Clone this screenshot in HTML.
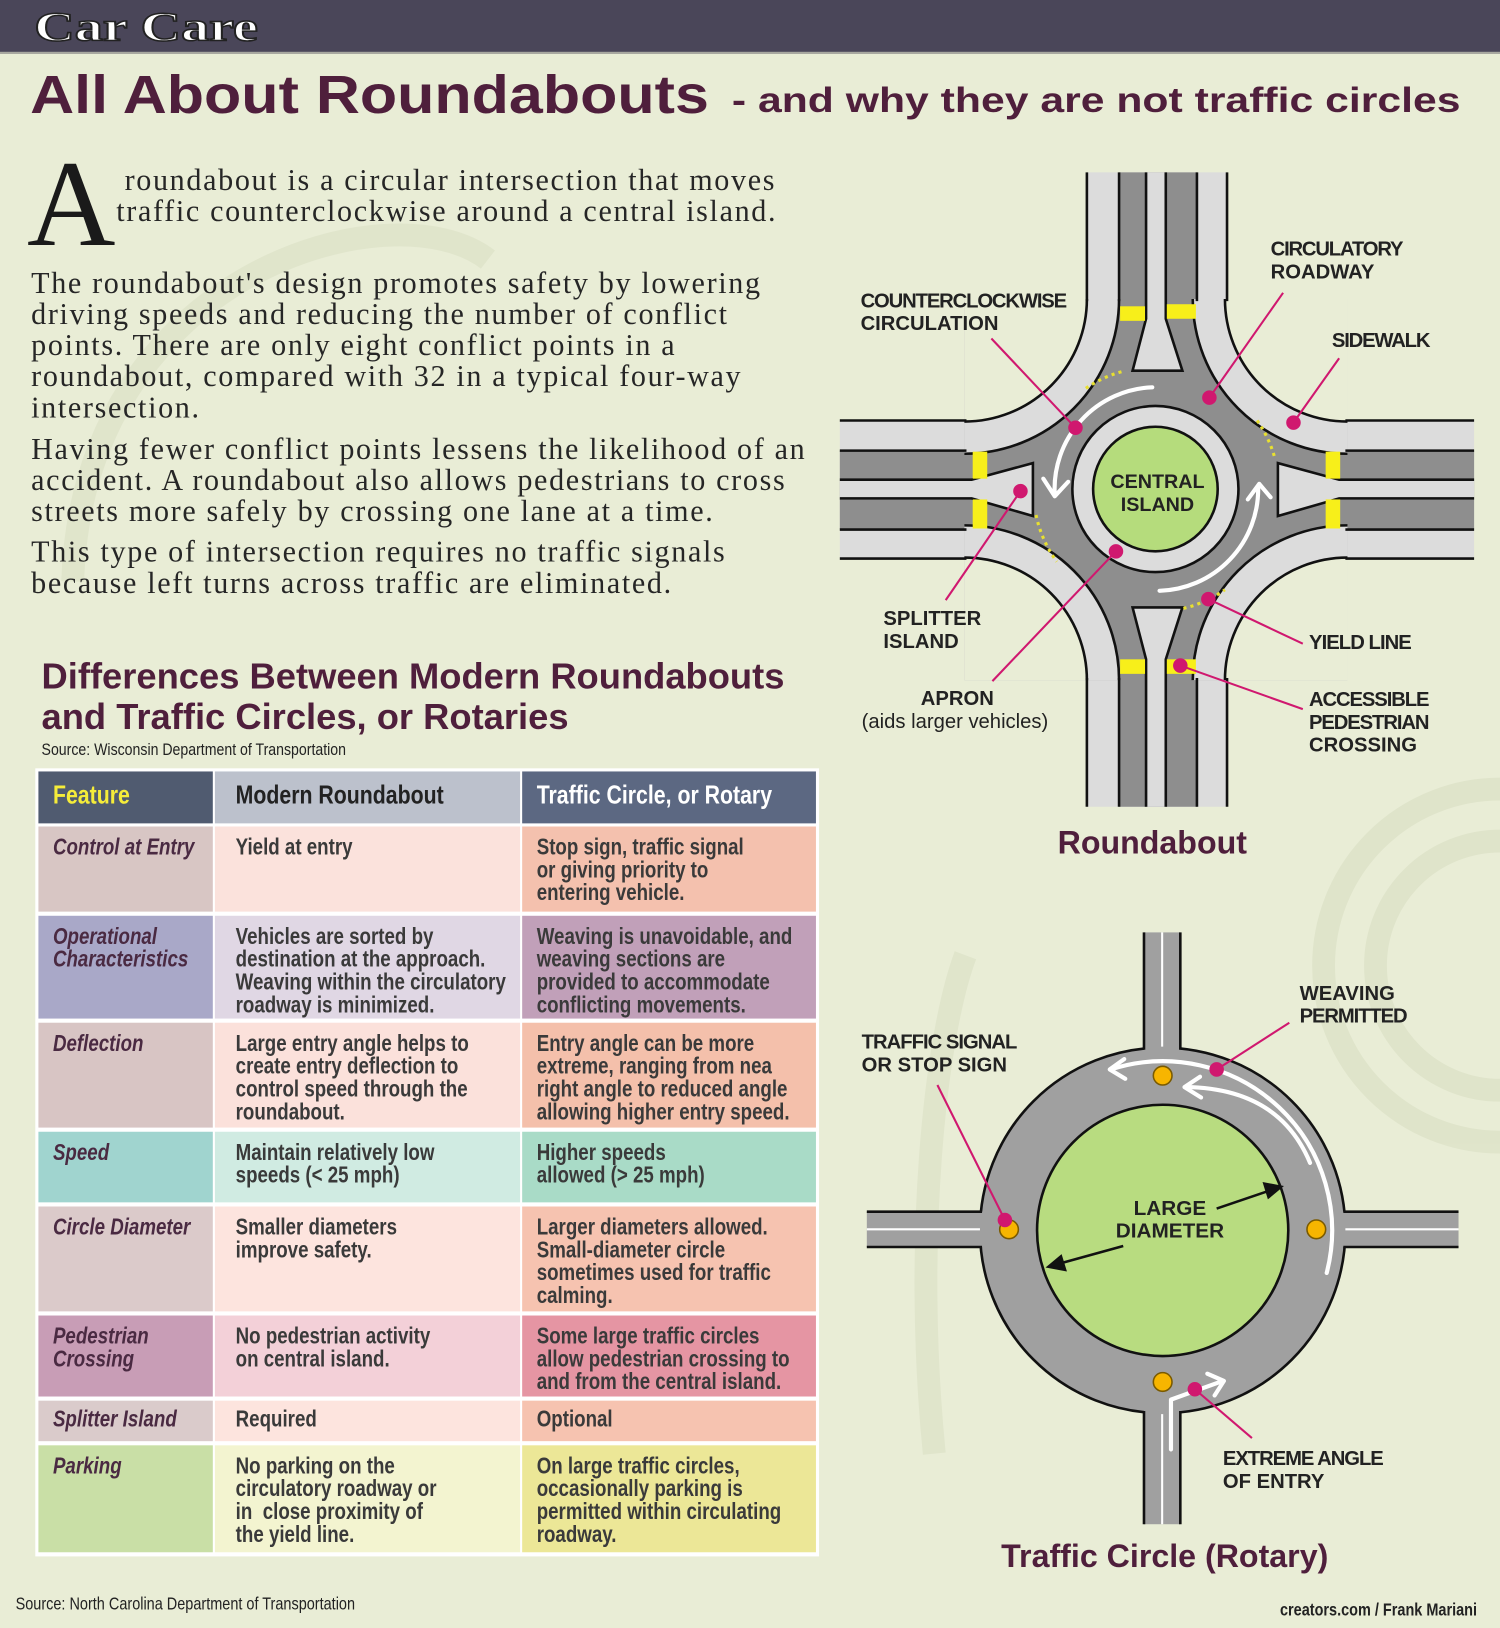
<!DOCTYPE html>
<html><head><meta charset="utf-8"><style>
html,body{margin:0;padding:0;width:1500px;height:1628px;overflow:hidden;background:#e9edd6}
#w{position:absolute;left:0;top:0;width:1445px;height:1568px;transform:scale(1.0381,1.0383);transform-origin:0 0;background:#e9edd6;font-family:"Liberation Sans",sans-serif}
.a{position:absolute;white-space:nowrap}
.bt{font-family:"Liberation Serif",serif;font-size:29px;letter-spacing:1.6px;color:#262626;line-height:30px}
.c{position:absolute;box-sizing:border-box;padding:9px 0 0 14px;font-size:22px;line-height:22px;color:#3a3a3a;font-weight:bold;overflow:visible}
.c span{display:inline-block;transform:scaleX(.82);transform-origin:0 0;white-space:nowrap}
.f{color:#4a2a42;font-style:italic}
.h{font-size:25px;padding-top:12px}
</style></head><body><div id="w">
<svg class="a" style="left:0;top:0" width="1445" height="1568">
<g fill="none" stroke="#dde2c8" stroke-width="22" opacity=".8">
<path d="M70 560 C 80 260 380 180 470 250"/>
<circle cx="1445" cy="930" r="170"/>
<circle cx="1445" cy="930" r="120"/>
<path d="M930 920 C 900 1000 880 1200 900 1400"/>
</g>
<rect x="0" y="0" width="1445" height="50" fill="#4a4659"/>
<rect x="0" y="50" width="1445" height="2" fill="#a8a8a0"/>
</svg>
<div class="a" style="left:33px;top:2px;font:bold 40px 'Liberation Serif',serif;color:#fff;-webkit-text-stroke:1.5px #222;transform:scaleX(1.35);transform-origin:0 0">Car Care</div>
<div class="a" style="left:29px;top:62px;font-weight:bold;font-size:52px;color:#4f1f3c;transform:scaleX(1.13);transform-origin:0 0">All About Roundabouts</div>
<div class="a" style="left:705px;top:78px;font-weight:bold;font-size:34px;color:#4f1f3c;transform:scaleX(1.21);transform-origin:0 0">- and why they are not traffic circles</div>

<div class="a" style="left:26px;top:138px;font:118px 'Liberation Serif',serif;color:#1a1a1a;line-height:118px">A</div>
<div class="a bt" style="left:120px;top:159px">roundabout is a circular intersection that moves</div>
<div class="a bt" style="left:112px;top:189px">traffic counterclockwise around a central island.</div>
<div class="a bt" style="left:30px;top:258px">The roundabout's design promotes safety by lowering<br>driving speeds and reducing the number of conflict<br>points. There are only eight conflict points in a<br>roundabout, compared with 32 in a typical four-way<br>intersection.</div>
<div class="a bt" style="left:30px;top:418px">Having fewer conflict points lessens the likelihood of an<br>accident. A roundabout also allows pedestrians to cross<br>streets more safely by crossing one lane at a time.</div>
<div class="a bt" style="left:30px;top:517px">This type of intersection requires no traffic signals<br>because left turns across traffic are eliminated.</div>

<div class="a" style="left:40px;top:632px;font-weight:bold;font-size:35px;line-height:39px;color:#4f1f3c">Differences Between Modern Roundabouts<br>and Traffic Circles, or Rotaries</div>
<div class="a" style="left:40px;top:714px;font-size:16px;color:#222"><span style="display:inline-block;transform:scaleX(.85);transform-origin:0 0">Source: Wisconsin Department of Transportation</span></div>

<div class="a" style="left:34px;top:740px;width:755px;height:759px;background:#fff"></div>
<div class="c h" style="left:37px;top:743px;width:168px;height:50px;background:#505b70;color:#f5ec3a"><span>Feature</span></div>
<div class="c h" style="left:207px;top:743px;width:294px;height:50px;background:#bcc1cc;color:#222;padding-left:20px"><span>Modern Roundabout</span></div>
<div class="c h" style="left:503px;top:743px;width:283px;height:50px;background:#5c6882;color:#fff"><span>Traffic Circle, or Rotary</span></div>
<div class="c f" style="left:37px;top:796px;width:168px;height:82px;background:#d8c6c4"><span>Control at Entry</span></div>
<div class="c" style="left:207px;top:796px;width:294px;height:82px;background:#fbe2dc;padding-left:20px"><span>Yield at entry</span></div>
<div class="c" style="left:503px;top:796px;width:283px;height:82px;background:#f4c1ae"><span>Stop sign, traffic signal<br>or giving priority to<br>entering vehicle.</span></div>
<div class="c f" style="left:37px;top:882px;width:168px;height:99px;background:#a9a8c8"><span>Operational<br>Characteristics</span></div>
<div class="c" style="left:207px;top:882px;width:294px;height:99px;background:#e0d7e4;padding-left:20px"><span>Vehicles are sorted by<br>destination at the approach.<br>Weaving within the circulatory<br>roadway is minimized.</span></div>
<div class="c" style="left:503px;top:882px;width:283px;height:99px;background:#c1a0b9"><span>Weaving is unavoidable, and<br>weaving sections are<br>provided to accommodate<br>conflicting movements.</span></div>
<div class="c f" style="left:37px;top:985px;width:168px;height:101px;background:#d8c5c4"><span>Deflection</span></div>
<div class="c" style="left:207px;top:985px;width:294px;height:101px;background:#fbe1db;padding-left:20px"><span>Large entry angle helps to<br>create entry deflection to<br>control speed through the<br>roundabout.</span></div>
<div class="c" style="left:503px;top:985px;width:283px;height:101px;background:#f4c0ab"><span>Entry angle can be more<br>extreme, ranging from nea<br>right angle to reduced angle<br>allowing higher entry speed.</span></div>
<div class="c f" style="left:37px;top:1090px;width:168px;height:68px;background:#a0d4cf"><span>Speed</span></div>
<div class="c" style="left:207px;top:1090px;width:294px;height:68px;background:#d0ebe2;padding-left:20px"><span>Maintain relatively low<br>speeds (&lt; 25 mph)</span></div>
<div class="c" style="left:503px;top:1090px;width:283px;height:68px;background:#a9dbc7"><span>Higher speeds<br>allowed (&gt; 25 mph)</span></div>
<div class="c f" style="left:37px;top:1162px;width:168px;height:101px;background:#dbcaca"><span>Circle Diameter</span></div>
<div class="c" style="left:207px;top:1162px;width:294px;height:101px;background:#fde4de;padding-left:20px"><span>Smaller diameters<br>improve safety.</span></div>
<div class="c" style="left:503px;top:1162px;width:283px;height:101px;background:#f6c3b0"><span>Larger diameters allowed.<br>Small-diameter circle<br>sometimes used for traffic<br>calming.</span></div>
<div class="c f" style="left:37px;top:1267px;width:168px;height:78px;background:#c89db6"><span>Pedestrian<br>Crossing</span></div>
<div class="c" style="left:207px;top:1267px;width:294px;height:78px;background:#f3d0d8;padding-left:20px"><span>No pedestrian activity<br>on central island.</span></div>
<div class="c" style="left:503px;top:1267px;width:283px;height:78px;background:#e595a3"><span>Some large traffic circles<br>allow pedestrian crossing to<br>and from the central island.</span></div>
<div class="c f" style="left:37px;top:1349px;width:168px;height:39px;background:#dacbcb;padding-top:7px"><span>Splitter Island</span></div>
<div class="c" style="left:207px;top:1349px;width:294px;height:39px;background:#fde4de;padding:7px 0 0 20px"><span>Required</span></div>
<div class="c" style="left:503px;top:1349px;width:283px;height:39px;background:#f6c3b0;padding-top:7px"><span>Optional</span></div>
<div class="c f" style="left:37px;top:1392px;width:168px;height:103px;background:#c9dfa6"><span>Parking</span></div>
<div class="c" style="left:207px;top:1392px;width:294px;height:103px;background:#f3f4d0;padding-left:20px"><span>No parking on the<br>circulatory roadway or<br>in&nbsp; close proximity of<br>the yield line.</span></div>
<div class="c" style="left:503px;top:1392px;width:283px;height:103px;background:#ece797"><span>On large traffic circles,<br>occasionally parking is<br>permitted within circulating<br>roadway.</span></div>

<div class="a" style="left:15px;top:1535px;font-size:17px;color:#222"><span style="display:inline-block;transform:scaleX(.82);transform-origin:0 0">Source: North Carolina Department of Transportation</span></div>
<div class="a" style="left:1233px;top:1541px;font-size:17px;font-weight:bold;color:#222"><span style="display:inline-block;transform:scaleX(.82);transform-origin:0 0">creators.com / Frank Mariani</span></div>

<svg class="a" style="left:0;top:0" width="1445" height="1568">
<defs><clipPath id="sq"><rect x="929" y="288" width="369" height="367"/></clipPath></defs>
<g>
<rect x="1047" y="166" width="135" height="611" fill="#dcdcdc"/>
<rect x="809" y="405" width="611" height="133" fill="#dcdcdc"/>
<rect x="929" y="288" width="369" height="367" fill="#dcdcdc"/>
<rect x="1078" y="166" width="75" height="611" fill="#8e8e8e"/>
<rect x="809" y="434" width="611" height="76" fill="#8e8e8e"/>
<rect x="929" y="288" width="369" height="367" fill="#8e8e8e"/>
<g clip-path="url(#sq)" stroke="#111" stroke-width="2.5">
<circle cx="929" cy="288" r="149" fill="#dcdcdc"/><circle cx="1298" cy="288" r="149" fill="#dcdcdc"/>
<circle cx="929" cy="655" r="149" fill="#dcdcdc"/><circle cx="1298" cy="655" r="149" fill="#dcdcdc"/>
<circle cx="929" cy="288" r="118" fill="#e9edd6"/><circle cx="1298" cy="288" r="118" fill="#e9edd6"/>
<circle cx="929" cy="655" r="118" fill="#e9edd6"/><circle cx="1298" cy="655" r="118" fill="#e9edd6"/>
</g>
<g stroke="#111" stroke-width="2.5">
<path d="M1047 166V290M1078 166V290M1153 166V290M1182 166V290M1047 777V653M1078 777V653M1153 777V653M1182 777V653"/>
<path d="M809 405H931M809 434H931M809 510H931M809 538H931M1420 405H1296M1420 434H1296M1420 510H1296M1420 538H1296"/>
</g>
<g fill="#dcdcdc" stroke="#111" stroke-width="2.5">
<path d="M1104 166V307L1091 357H1139L1123 307V166"/>
<path d="M1104 777V635L1091 585H1139L1123 635V777"/>
<path d="M809 462H936L995 446V497L936 480H809"/>
<path d="M1420 462H1290L1231 446V497L1290 480H1420"/>
</g>
<g fill="#f7ef1a">
<rect x="1079" y="295" width="24" height="14"/><rect x="1124" y="293" width="28" height="14"/>
<rect x="1079" y="635" width="24" height="14"/><rect x="1124" y="635" width="28" height="14"/>
<rect x="937" y="435" width="14" height="26"/><rect x="937" y="481" width="14" height="28"/>
<rect x="1277" y="435" width="14" height="26"/><rect x="1277" y="481" width="14" height="28"/>
</g>
<g fill="none" stroke="#e8e030" stroke-width="3" stroke-dasharray="3 4">
<path d="M1046 374A118 118 0 0 1 1084 357"/>
<path d="M1211 405A118 118 0 0 1 1228 441"/>
<path d="M998 496A118 118 0 0 0 1018 541"/>
<path d="M1140 586A118 118 0 0 0 1180 568"/>
</g>
<circle cx="1113" cy="471" r="80" fill="#dcdcdc" stroke="#111" stroke-width="2.5"/>
<circle cx="1113" cy="471" r="60" fill="#b5dc7c" stroke="#111" stroke-width="2.5"/>
<g fill="none" stroke="#fff" stroke-width="4" stroke-linecap="round" stroke-linejoin="round">
<path d="M1110 373A98 98 0 0 0 1016 476"/>
<path d="M1005 461L1016 478L1029 464"/>
<path d="M1117 569A98 98 0 0 0 1212 470"/>
<path d="M1202 481L1213 466L1224 479"/>
</g>
<text x="1115" y="470" text-anchor="middle" font-family="Liberation Sans" font-weight="bold" font-size="19" fill="#222">CENTRAL</text>
<text x="1115" y="492" text-anchor="middle" font-family="Liberation Sans" font-weight="bold" font-size="19" fill="#222">ISLAND</text>
</g>
<g stroke="#d0186f" stroke-width="2" fill="#d0186f">
<line x1="955" y1="326" x2="1036" y2="412"/><circle cx="1036" cy="412" r="6"/>
<line x1="1236" y1="282" x2="1165" y2="383"/><circle cx="1165" cy="383" r="6"/>
<line x1="1290" y1="345" x2="1246" y2="407"/><circle cx="1246" cy="407" r="6"/>
<line x1="911" y1="578" x2="983" y2="473"/><circle cx="983" cy="473" r="6"/>
<line x1="956" y1="656" x2="1075" y2="531"/><circle cx="1075" cy="531" r="6"/>
<line x1="1255" y1="620" x2="1164" y2="577"/><circle cx="1164" cy="577" r="6"/>
<line x1="1255" y1="683" x2="1137" y2="641"/><circle cx="1137" cy="641" r="6"/>
</g>
<g font-family="Liberation Sans" font-weight="bold" font-size="19.5" fill="#222">
<text x="829" y="296" textLength="199">COUNTERCLOCKWISE</text><text x="829" y="318">CIRCULATION</text>
<text x="1224" y="246" textLength="128">CIRCULATORY</text><text x="1224" y="268">ROADWAY</text>
<text x="1283" y="334" textLength="95">SIDEWALK</text>
<text x="851" y="602">SPLITTER</text><text x="851" y="624">ISLAND</text>
<text x="887" y="679">APRON</text>
<text x="830" y="701" font-weight="normal">(aids larger vehicles)</text>
<text x="1261" y="625" textLength="99">YIELD LINE</text>
<text x="1261" y="680" textLength="116">ACCESSIBLE</text><text x="1261" y="702" textLength="116">PEDESTRIAN</text><text x="1261" y="724">CROSSING</text>
</g>
<text x="1110" y="822" text-anchor="middle" font-family="Liberation Sans" font-weight="bold" font-size="31" fill="#4f1f3c">Roundabout</text>

<circle cx="1120" cy="1185" r="176" fill="#a0a0a0" stroke="#111" stroke-width="2.5"/>
<g fill="#a0a0a0">
<rect x="1102" y="898" width="35" height="125"/><rect x="1102" y="1345" width="35" height="123"/>
<rect x="835" y="1167" width="125" height="34"/><rect x="1280" y="1167" width="125" height="34"/>
</g>
<g stroke="#111" stroke-width="2.5">
<path d="M1102 898V1011M1137 898V1011M1102 1468V1359M1137 1468V1359M835 1167H946M835 1201H946M1405 1167H1294M1405 1201H1294"/>
</g>
<g stroke="#fff" stroke-width="2">
<path d="M1119.5 898V1008M1119.5 1468V1362M835 1184H944M1405 1184H1296"/>
</g>
<circle cx="1120" cy="1185" r="121" fill="#b8dc80" stroke="#111" stroke-width="2.5"/>
<g fill="#f7b500" stroke="#7a5a00" stroke-width="1.5">
<circle cx="1120" cy="1036" r="9"/><circle cx="972" cy="1184" r="9"/><circle cx="1268" cy="1184" r="9"/><circle cx="1120" cy="1331" r="9"/>
</g>
<g fill="none" stroke="#fff" stroke-width="4" stroke-linecap="round" stroke-linejoin="round">
<path d="M1278 1226A163 163 0 0 0 1070 1030"/>
<path d="M1083 1020L1069 1030L1084 1039"/>
<path d="M1262 1120Q1232 1048 1142 1047"/>
<path d="M1156 1037L1141 1047L1157 1057"/>
<path d="M1128 1396V1348L1178 1330"/>
<path d="M1163 1323L1179 1330L1170 1344"/>
</g>
<g stroke="#111" stroke-width="2.5" fill="#111">
<line x1="1172" y1="1164" x2="1222" y2="1147"/><path d="M1234 1143L1218 1140L1222 1153Z"/>
<line x1="1082" y1="1200" x2="1024" y2="1216"/><path d="M1010 1220L1026 1223L1022 1210Z"/>
</g>
<text x="1127" y="1170" text-anchor="middle" font-family="Liberation Sans" font-weight="bold" font-size="20" fill="#222">LARGE</text>
<text x="1127" y="1192" text-anchor="middle" font-family="Liberation Sans" font-weight="bold" font-size="20" fill="#222">DIAMETER</text>
<g stroke="#d0186f" stroke-width="2" fill="#d0186f">
<line x1="903" y1="1045" x2="968" y2="1175"/><circle cx="968" cy="1175" r="6"/>
<line x1="1242" y1="985" x2="1172" y2="1030"/><circle cx="1172" cy="1030" r="6"/>
<line x1="1206" y1="1385" x2="1151" y2="1338"/><circle cx="1151" cy="1338" r="6"/>
</g>
<g font-family="Liberation Sans" font-weight="bold" font-size="19.5" fill="#222">
<text x="830" y="1010" textLength="150">TRAFFIC SIGNAL</text><text x="830" y="1032">OR STOP SIGN</text>
<text x="1252" y="963">WEAVING</text><text x="1252" y="985" textLength="104">PERMITTED</text>
<text x="1178" y="1411" textLength="155">EXTREME ANGLE</text><text x="1178" y="1433">OF ENTRY</text>
</g>
<text x="1122" y="1509" text-anchor="middle" font-family="Liberation Sans" font-weight="bold" font-size="31" fill="#4f1f3c">Traffic Circle (Rotary)</text>
</svg>
</div></body></html>
